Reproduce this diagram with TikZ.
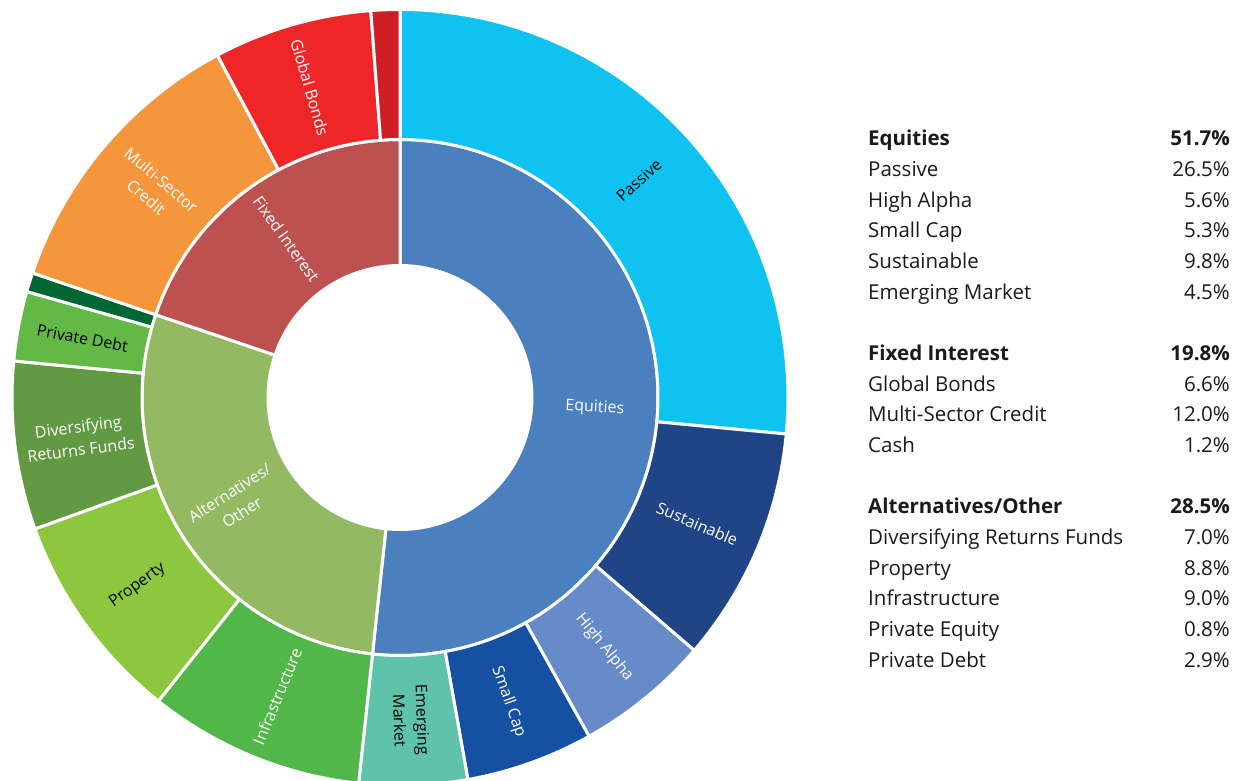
\documentclass[tikz,border=0pt]{standalone}
\usepackage{fontspec}
\setmainfont{Open Sans}
\definecolor{cPassive}{HTML}{10C2F0}
\definecolor{cEquities}{HTML}{4A80BD}
\definecolor{cSustain}{HTML}{204586}
\definecolor{cHighAlpha}{HTML}{668BC8}
\definecolor{cSmallCap}{HTML}{1650A2}
\definecolor{cEmerging}{HTML}{5FC3AB}
\definecolor{cAlt}{HTML}{93BA62}
\definecolor{cInfra}{HTML}{50B748}
\definecolor{cProperty}{HTML}{8DC63F}
\definecolor{cDivers}{HTML}{619A43}
\definecolor{cPrivDebt}{HTML}{62B946}
\definecolor{cPrivEq}{HTML}{006633}
\definecolor{cFixed}{HTML}{BC5150}
\definecolor{cMulti}{HTML}{F5963C}
\definecolor{cGlobal}{HTML}{EE2628}
\definecolor{cCash}{HTML}{CE1F27}
\definecolor{legtext}{HTML}{1A1A1A}
\newcommand\ringseg[5]{\fill[#5, segstyle] (#1:#3pt) arc[start angle=#1, end angle=#2, radius=#3pt] -- (#2:#4pt) arc[start angle=#2, end angle=#1, radius=#4pt] -- cycle;}
\tikzset{
  segstyle/.style={draw=white, line width=3pt, line join=miter},
  lblw/.style={text=white, font=\fontsize{16}{23}\selectfont, align=center, inner sep=0pt},
  lblb/.style={lblw, text=black},
  legl/.style={anchor=base west, font=\fontsize{20.5}{24}\selectfont, text=legtext, inner sep=0pt},
  legr/.style={anchor=base east, font=\fontsize{20.5}{24}\selectfont, text=legtext, inner sep=0pt},
  leglb/.style={legl, font=\fontsize{20.5}{24}\selectfont\bfseries},
  legrb/.style={legr, font=\fontsize{20.5}{24}\selectfont\bfseries}
}
\begin{document}
\begin{tikzpicture}[x=1pt,y=1pt]
\useasboundingbox (0,0) rectangle (1240,780);
\begin{scope}[shift={(400,382.5)}]
% inner ring
\ringseg{90}{-96.12}{258}{132}{cEquities}
\ringseg{-96.12}{-198.72}{258}{132}{cAlt}
\ringseg{-198.72}{-270}{258}{132}{cFixed}
% outer ring
\ringseg{90}{-5.4}{388}{258}{cPassive}
\ringseg{-5.4}{-40.68}{388}{258}{cSustain}
\ringseg{-40.68}{-60.84}{388}{258}{cHighAlpha}
\ringseg{-60.84}{-79.92}{388}{258}{cSmallCap}
\ringseg{-79.92}{-96.12}{388}{258}{cEmerging}
\ringseg{-96.12}{-128.52}{388}{258}{cInfra}
\ringseg{-128.52}{-160.2}{388}{258}{cProperty}
\ringseg{-160.2}{-185.4}{388}{258}{cDivers}
\ringseg{-185.4}{-195.84}{388}{258}{cPrivDebt}
\ringseg{-195.84}{-198.72}{388}{258}{cPrivEq}
\ringseg{-198.72}{-241.92}{388}{258}{cMulti}
\ringseg{-241.92}{-265.68}{388}{258}{cGlobal}
\ringseg{-265.68}{-270}{388}{258}{cCash}
% inner labels
\node[lblw, rotate=-3.06] (lEq) at (-3.06:195) {Equities};
\node[lblw, rotate=32.58] (lAlt) at (-147.42:195) {Alternatives/\\Other};
\node[lblw, rotate=-54.36] (lFix) at (-234.36:195) {Fixed Interest};
% outer labels
\node[lblb, rotate=42.3] (lPas) at (42.3:323) {Passive};
\node[lblw, rotate=-23.04] (lSus) at (-23.04:323) {Sustainable};
\node[lblw, rotate=-50.76] (lHA) at (-50.76:323) {High Alpha};
\node[lblw, rotate=-70.38] (lSC) at (-70.38:323) {Small Cap};
\node[lblb, rotate=-88.02] (lEM) at (-88.02:323) {Emerging\\Market};
\node[lblw, rotate=67.68] (lInf) at (-112.32:323) {Infrastructure};
\node[lblb, rotate=35.64] (lProp) at (-144.36:323) {Property};
\node[lblw, rotate=7.2] (lDiv) at (-172.8:323) {Diversifying\\Returns Funds};
\node[lblb, rotate=-10.62] (lPD) at (-190.62:323) {Private Debt};
\node[lblw, rotate=-40.32] (lMSC) at (-220.32:323) {Multi-Sector\\Credit};
\node[lblw, rotate=-73.8] (lGB) at (-253.8:323) {Global Bonds};
\end{scope}
% legend
\node[leglb] (t1) at (868,634) {Equities};
\node[legrb] (v1) at (1230,634) {51.7\%};
\node[legl] (t2) at (868,603.35) {Passive};
\node[legr] (v2) at (1230,603.35) {26.5\%};
\node[legl] (t3) at (868,572.7) {High Alpha};
\node[legr] (v3) at (1230,572.7) {5.6\%};
\node[legl] (t4) at (868,542.05) {Small Cap};
\node[legr] (v4) at (1230,542.05) {5.3\%};
\node[legl] (t5) at (868,511.4) {Sustainable};
\node[legr] (v5) at (1230,511.4) {9.8\%};
\node[legl] (t6) at (868,480.75) {Emerging Market};
\node[legr] (v6) at (1230,480.75) {4.5\%};
\node[leglb] (t7) at (868,419.45) {Fixed Interest};
\node[legrb] (v7) at (1230,419.45) {19.8\%};
\node[legl] (t8) at (868,388.8) {Global Bonds};
\node[legr] (v8) at (1230,388.8) {6.6\%};
\node[legl] (t9) at (868,358.15) {Multi-Sector Credit};
\node[legr] (v9) at (1230,358.15) {12.0\%};
\node[legl] (t10) at (868,327.5) {Cash};
\node[legr] (v10) at (1230,327.5) {1.2\%};
\node[leglb] (t11) at (868,266.2) {Alternatives/Other};
\node[legrb] (v11) at (1230,266.2) {28.5\%};
\node[legl] (t12) at (868,235.55) {Diversifying Returns Funds};
\node[legr] (v12) at (1230,235.55) {7.0\%};
\node[legl] (t13) at (868,204.9) {Property};
\node[legr] (v13) at (1230,204.9) {8.8\%};
\node[legl] (t14) at (868,174.25) {Infrastructure};
\node[legr] (v14) at (1230,174.25) {9.0\%};
\node[legl] (t15) at (868,143.6) {Private Equity};
\node[legr] (v15) at (1230,143.6) {0.8\%};
\node[legl] (t16) at (868,112.95) {Private Debt};
\node[legr] (v16) at (1230,112.95) {2.9\%};
\end{tikzpicture}
\end{document}
